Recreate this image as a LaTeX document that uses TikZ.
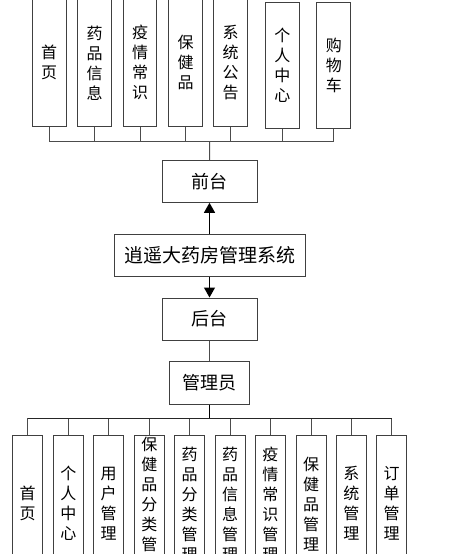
\documentclass[tikz,border=0pt]{standalone}
\usepackage{fontspec}
\newfontfamily\cjk{Noto Sans CJK SC}
\usetikzlibrary{arrows.meta}
\tikzset{
  box/.style={draw=black!75, line width=1pt, fill=white, inner sep=0pt, align=center},
  vbox/.style={box, minimum width=#1, font=\cjk\fontsize{16}{20}\selectfont},
  hbox/.style={box, font=\cjk\fontsize{18}{22}\selectfont},
  conn/.style={draw=black!70, line width=1pt},
  arr/.style={draw=black, line width=1.2pt, -{Triangle[length=10pt,width=11pt]}}
}
\begin{document}
\begin{tikzpicture}[x=1pt,y=-1pt]
\useasboundingbox (0,0) rectangle (456,554);
\clip (0,0) rectangle (456,554);
% top row
\node[vbox=33.7pt, minimum height=127pt] (t1) at (49.2,62.8) {首\\页};
\node[vbox=33.7pt, minimum height=127pt] (t2) at (94.5,62.8) {药\\品\\信\\息};
\node[vbox=33.7pt, minimum height=127pt] (t3) at (140,62.8) {疫\\情\\常\\识};
\node[vbox=33.7pt, minimum height=127pt] (t4) at (185.5,62.8) {保\\健\\品};
\node[vbox=33.7pt, minimum height=127pt] (t5) at (230.5,62.8) {系\\统\\公\\告};
\node[vbox=33.7pt, minimum height=126pt] (t6) at (282.3,65.7) {个\\人\\中\\心};
\node[vbox=33.7pt, minimum height=126pt] (t7) at (333.8,65.7) {购\\物\\车};
\coordinate (topbus) at (209.7,141.7);
\foreach \n in {t1,t2,t3,t4,t5,t6,t7}{
  \draw[conn] (\n.south) -- (\n.south |- topbus);
}
\draw[conn] (t1.south |- topbus) -- (t7.south |- topbus);
% center column
\node[hbox, minimum width=95pt, minimum height=42pt] (front) at (209.5,181.3) {前台};
\node[hbox, minimum width=191pt, minimum height=42.4pt, font=\cjk\fontsize{19}{22}\selectfont] (sys) at (209.5,255.5) {逍遥大药房管理系统};
\node[hbox, minimum width=95pt, minimum height=42pt] (back) at (209.5,319) {后台};
\node[hbox, minimum width=80pt, minimum height=42.7pt] (admin) at (209.5,382.7) {管理员};
\draw[conn] (topbus) -- (front.north);
\draw[arr] (sys.north) -- (front.south);
\draw[arr] (sys.south) -- (back.north);
\draw[conn] (back.south) -- (admin.north);
% bottom row
\foreach \i/\x/\t in {1/27.7/{首\\页},2/68.3/{个\\人\\中\\心},3/108.7/{用\\户\\管\\理},4/149.3/{保\\健\\品\\分\\类\\管\\理},5/189.7/{药\\品\\分\\类\\管\\理},6/230/{药\\品\\信\\息\\管\\理},7/270.3/{疫\\情\\常\\识\\管\\理},8/311/{保\\健\\品\\管\\理},9/351.3/{系\\统\\管\\理},10/391.7/{订\\单\\管\\理}}{
  \node[vbox=30pt, minimum height=136pt] (b\i) at (\x,503.7) {\t};
}
\coordinate (botbus) at (209.5,418.3);
\draw[conn, draw=black, line width=1.2pt] (admin.south) -- (botbus);
\foreach \i in {1,...,10}{
  \draw[conn] (b\i.north) -- (b\i.north |- botbus);
}
\draw[conn, draw=black!85, line width=1.2pt] (b1.north |- botbus) -- (b10.north |- botbus);
\end{tikzpicture}
\end{document}
